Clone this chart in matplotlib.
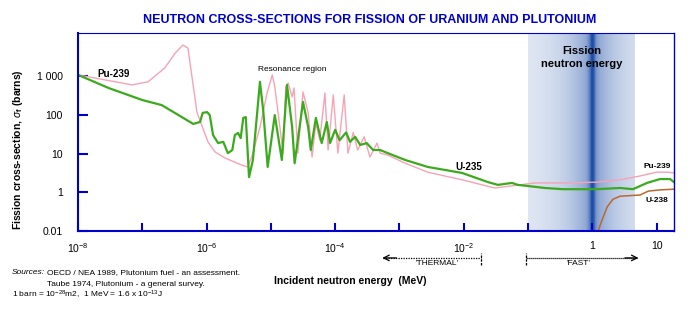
#Fission cross-sections of U-235, Pu-239 and U-238 vs incident neutron energy

import numpy as np
import matplotlib
matplotlib.use('Agg')
import matplotlib.pyplot as plt
from matplotlib.colors import LinearSegmentedColormap
from matplotlib.transforms import blended_transform_factory

plt.rcParams['font.family'] = ['Liberation Sans', 'DejaVu Sans']
plt.rcParams['mathtext.fontset'] = 'custom'
plt.rcParams['mathtext.rm'] = 'Liberation Sans'
plt.rcParams['mathtext.it'] = 'Liberation Sans:italic'
plt.rcParams['mathtext.bf'] = 'Liberation Sans:bold'

# data (energy in MeV, cross-section in barns)
u235_energy = [1.0e-8, 3.0e-8, 1.0e-7, 2.0e-7, 3.2e-7, 6.2e-7, 7.9e-7, 8.7e-7,
               1.02e-6, 1.12e-6, 1.26e-6, 1.51e-6, 1.82e-6, 2.14e-6, 2.51e-6, 2.75e-6,
               3.09e-6, 3.39e-6, 3.72e-6, 4.07e-6, 4.57e-6, 5.25e-6, 6.76e-6, 7.59e-6,
               8.91e-6, 1.15e-5, 1.48e-5, 1.78e-5, 2.14e-5, 2.34e-5, 3.16e-5, 3.80e-5,
               4.17e-5, 5.01e-5, 6.17e-5, 7.41e-5, 8.32e-5, 1.0e-4, 1.17e-4, 1.48e-4,
               1.70e-4, 2.04e-4, 2.45e-4, 3.09e-4, 3.89e-4, 5.01e-4, 6.61e-4, 1.23e-3,
               2.75e-3, 9.33e-3, 2.40e-2, 3.39e-2, 5.62e-2, 6.92e-2, 0.100, 0.182,
               0.347, 1.17, 2.69, 4.27, 7.08, 11.2, 16.2, 18.6]
u235_sigma = [1070, 490, 240, 178, 112, 58, 65, 112,
              117, 98, 30, 18.6, 20, 10.2, 12.3, 30,
              34, 25, 83, 87, 2.45, 6.8, 710, 132,
              4.5, 98, 6.8, 590, 48, 5.6, 214, 48,
              12.3, 83, 18.6, 65, 18.6, 41, 22, 35,
              20, 27, 16.6, 18.6, 12.3, 12.3, 10.2, 6.8,
              4.5, 3.16, 1.82, 1.55, 1.74, 1.55, 1.45, 1.29,
              1.2, 1.2, 1.29, 1.2, 1.74, 2.19, 2.19, 1.82]

pu239_energy = [1.0e-8, 1.82e-8, 6.92e-8, 1.23e-7, 2.24e-7, 3.24e-7, 4.27e-7, 5.13e-7,
                6.17e-7, 7.08e-7, 8.71e-7, 1.05e-6, 1.35e-6, 1.95e-6, 3.55e-6, 4.37e-6,
                5.13e-6, 6.76e-6, 8.71e-6, 1.05e-5, 1.15e-5, 1.38e-5, 1.55e-5, 1.70e-5,
                1.86e-5, 2.14e-5, 2.29e-5, 2.63e-5, 3.16e-5, 3.80e-5, 4.37e-5, 5.01e-5,
                5.75e-5, 6.92e-5, 7.76e-5, 9.33e-5, 1.10e-4, 1.38e-4, 1.58e-4, 1.91e-4,
                2.24e-4, 2.82e-4, 3.47e-4, 4.47e-4, 5.01e-4, 6.61e-4, 1.23e-3, 2.75e-3,
                9.33e-3, 3.02e-2, 0.129, 0.347, 1.17, 2.69, 5.50, 10.0, 14.5, 18.6]
pu239_sigma = [1070, 890, 590, 710, 1620, 3890, 6310, 5250,
               590, 117, 46, 20, 11, 7.6, 5.0, 4.5,
               9.1, 48, 363, 1070, 525, 48, 10.2, 525,
               660, 288, 490, 10.2, 389, 112, 8.1, 62,
               22, 363, 12.3, 324, 10.2, 324, 10.2, 35,
               12.3, 27, 8.1, 18.6, 10.2, 9.1, 5.6, 3.3,
               2.1, 1.29, 1.74, 1.74, 1.82, 2.1, 2.63, 3.3, 3.3, 3.16]

u238_energy = [1.23, 1.41, 1.70, 2.09, 2.69, 5.50, 7.41, 11.2, 18.6]
u238_sigma = [0.1, 0.19, 0.42, 0.66, 0.79, 0.85, 1.07, 1.15, 1.2]

x_ticks = [1e-8, 1e-7, 1e-6, 1e-5, 1e-4, 1e-3, 1e-2, 1e-1, 1, 10]
x_ticklabels = ['$10^{-8}$', '', '$10^{-6}$', '', '$10^{-4}$', '', '$10^{-2}$', '', '1', '10']
y_ticks = [0.1, 1, 10, 100, 1000]
y_ticklabels = ['0.01', '1', '10', '100', '1 000']

blue = '#0000cc'

fig = plt.figure(figsize=(6.96, 3.13), dpi=100)
ax = fig.add_axes([78 / 696, 1 - 231 / 313, 596 / 696, 198 / 313])
ax.set_xscale('log')
ax.set_yscale('log')
ax.set_xlim(1e-8, 18.6)
ax.set_ylim(0.1, 12900)

# fission neutron energy band (shaded gradient, darkest at 1 MeV)
edges = np.logspace(-1.0, 0.67, 240)
u = np.log10(np.sqrt(edges[:-1] * edges[1:]))
shade = 0.1 + 0.5 * np.exp(-np.abs(u) / 0.4) + 0.4 * np.exp(-(u / 0.05) ** 2)
band_cmap = LinearSegmentedColormap.from_list('band', ['#ffffff', '#1a4ca6'])
ax.pcolormesh(edges, [0.1, 12900], shade[np.newaxis, :], cmap=band_cmap,
              vmin=0, vmax=1, shading='flat', zorder=0, rasterized=True)

ax.plot(pu239_energy, pu239_sigma, color='#f7a3b5', lw=1.0, zorder=2)
ax.plot(u235_energy, u235_sigma, color='#3caa1e', lw=1.6, zorder=3)
ax.plot(u238_energy, u238_sigma, color='#b8692c', lw=1.1, zorder=3)

ax.set_xticks(x_ticks)
ax.set_xticklabels(x_ticklabels)
ax.set_yticks(y_ticks)
ax.set_yticklabels(y_ticklabels)
ax.minorticks_off()
ax.tick_params(axis='x', direction='in', length=6, width=1.5, color=blue,
               labelsize=7.5, pad=7)
ax.tick_params(axis='y', direction='in', length=7, width=1.5, color=blue,
               labelsize=7.5, pad=11)

for side in ['left', 'right']:
    ax.spines[side].set_color(blue)
ax.spines['left'].set_linewidth(1.5)
ax.spines['right'].set_linewidth(1.0)
for side in ['top', 'bottom']:
    ax.spines[side].set_color(blue)
    ax.spines[side].set_linestyle((0, (1, 1)))
ax.spines['top'].set_linewidth(0.8)
ax.spines['bottom'].set_linewidth(1.5)
for sp in ax.spines.values():
    sp.set_zorder(5)

# curve labels
ax.text(0.033, 0.795, 'Pu-239', transform=ax.transAxes, fontsize=7, fontweight='bold',
        va='center')
ax.text(0.302, 0.815, 'Resonance region', transform=ax.transAxes, fontsize=6, va='center')
ax.text(0.633, 0.324, 'U-235', transform=ax.transAxes, fontsize=7, fontweight='bold',
        va='center')
ax.text(0.948, 0.324, 'Pu-239', transform=ax.transAxes, fontsize=6, fontweight='bold',
        va='center')
ax.text(0.953, 0.152, 'U-238', transform=ax.transAxes, fontsize=6, fontweight='bold',
        va='center')
ax.text(0.845, 0.875, 'Fission\nneutron energy', transform=ax.transAxes, fontsize=8,
        fontweight='bold', ha='center', va='center', linespacing=1.4)

# thermal / fast arrows below the axis
trans = blended_transform_factory(ax.transData, ax.transAxes)
ya = -0.136
ax.plot([5.6e-4, 1.86e-2], [ya, ya], transform=trans, color='black', lw=0.9,
        ls=(0, (1, 1)), clip_on=False)
ax.plot([1.86e-2, 1.86e-2], [ya - 0.035, ya + 0.025], transform=trans, color='black',
        lw=0.9, ls=(0, (2, 1)), clip_on=False)
ax.annotate('', xy=(5.4e-4, ya), xytext=(9e-4, ya), xycoords=trans, textcoords=trans,
            arrowprops=dict(arrowstyle='->', lw=0.9, color='black',
                            shrinkA=0, shrinkB=0), annotation_clip=False)
ax.text(3.8e-3, ya - 0.03, "'THERMAL'", transform=trans, fontsize=6, ha='center',
        va='center')

ax.plot([0.093, 4.9], [ya, ya], transform=trans, color='black', lw=0.9,
        ls=(0, (1, 0.6)), clip_on=False)
ax.plot([0.093, 0.093], [ya - 0.035, ya + 0.025], transform=trans, color='black',
        lw=0.9, ls=(0, (2, 1)), clip_on=False)
ax.annotate('', xy=(5.2, ya), xytext=(3.2, ya), xycoords=trans, textcoords=trans,
            arrowprops=dict(arrowstyle='->', lw=0.9, color='black',
                            shrinkA=0, shrinkB=0), annotation_clip=False)
ax.text(0.6, ya - 0.03, "'FAST'", transform=trans, fontsize=6, ha='center', va='center')

# titles and axis labels
fig.text(370 / 696, 1 - 20 / 313,
         'NEUTRON CROSS-SECTIONS FOR FISSION OF URANIUM AND PLUTONIUM',
         color=blue, fontsize=9, fontweight='bold', ha='center', va='center')
fig.text(18 / 696, 1 - 150 / 313, r'Fission cross-section, $\sigma_\mathbf{f}$ (barns)',
         rotation=90, fontsize=7.5, fontweight='bold', ha='center', va='center')
fig.text(350 / 696, 1 - 281 / 313, 'Incident neutron energy  (MeV)', fontsize=7.5,
         fontweight='bold', ha='center', va='center')

# sources
fig.text(12 / 696, 1 - 273 / 313, 'Sources:', fontsize=6, style='italic', va='center')
fig.text(47 / 696, 1 - 273 / 313, 'OECD / NEA 1989, Plutonium fuel - an assessment.',
         fontsize=6, va='center')
fig.text(47 / 696, 1 - 284 / 313, 'Taube 1974, Plutonium - a general survey.',
         fontsize=6, va='center')
fig.text(12 / 696, 1 - 295 / 313,
         r'1 barn = 10$^{-28}$m2,  1 MeV = 1.6 x 10$^{-13}$J', fontsize=6, va='center')

fig.savefig('out.png', dpi=100)
